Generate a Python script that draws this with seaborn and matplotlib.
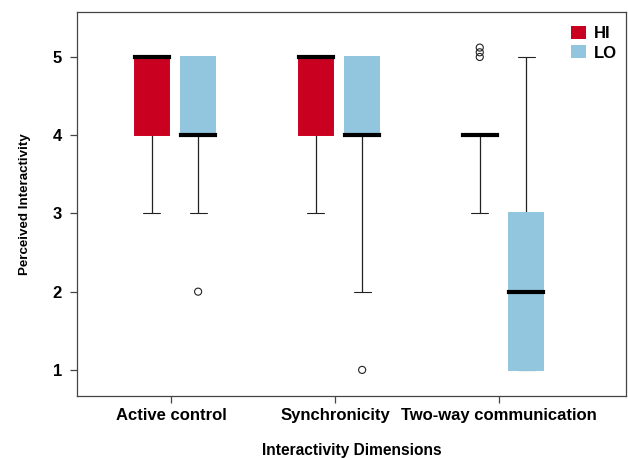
import numpy as np
import pandas as pd
import matplotlib
matplotlib.use("Agg")
import matplotlib.pyplot as plt
from matplotlib.patches import Patch
import seaborn as sns

# ---------------- data ----------------
dimensions = ["Active control", "Synchronicity", "Two-way communication"]
groups = ["HI", "LO"]

# observations inside the whiskers (give quartiles, median, whisker ends)
hi_active = [3, 4, 5, 5, 5]
lo_active = [3, 4, 4, 5, 5]
hi_sync = [3, 4, 5, 5, 5]
lo_sync = [2, 4, 4, 5, 5]
hi_twoway = [3, 4, 4, 4, 4]
lo_twoway = [1, 1, 2, 3, 5]

# outlying observations
out_dimension = ["Active control", "Synchronicity", "Two-way communication",
                 "Two-way communication", "Two-way communication"]
out_group = ["LO", "LO", "HI", "HI", "HI"]
out_value = [2, 1, 5.0, 5.06, 5.12]

y_ticks = [1, 2, 3, 4, 5]
colors = {"HI": "#CA0020", "LO": "#92C5DE"}

# ---------------- build table ----------------
samples = {
    ("Active control", "HI"): hi_active,
    ("Active control", "LO"): lo_active,
    ("Synchronicity", "HI"): hi_sync,
    ("Synchronicity", "LO"): lo_sync,
    ("Two-way communication", "HI"): hi_twoway,
    ("Two-way communication", "LO"): lo_twoway,
}
rows = []
for (dim, grp), vals in samples.items():
    for v in vals:
        rows.append({"dimension": dim, "group": grp, "value": v})
df = pd.DataFrame(rows)

# ---------------- style ----------------
sns.set_theme(style="ticks")
plt.rcParams["font.family"] = ["Liberation Sans", "DejaVu Sans"]
plt.rcParams["font.weight"] = "bold"
plt.rcParams["text.color"] = "black"
plt.rcParams["axes.labelcolor"] = "black"
plt.rcParams["xtick.labelcolor"] = "black"
plt.rcParams["ytick.labelcolor"] = "black"

fig = plt.figure(figsize=(6.28, 4.58), dpi=100)
ax = fig.add_axes([0.1231, 0.1343, 0.8737, 0.8395])

box_width = 0.566
sns.boxplot(
    data=df, x="dimension", y="value", hue="group",
    order=dimensions, hue_order=groups, palette=colors,
    saturation=1, width=box_width, gap=0.265, whis=(0, 100),
    linecolor="black", linewidth=0.9,
    boxprops=dict(linewidth=0, zorder=2),
    medianprops=dict(linewidth=3.0, color="black", solid_capstyle="projecting", zorder=3),
    whiskerprops=dict(color="#222222", linewidth=0.9, zorder=1),
    capprops=dict(color="#222222", linewidth=0.8, zorder=1),
    ax=ax, legend=False,
)
# borderless boxes: edge painted in the fill colour
for p in ax.patches:
    p.set_edgecolor(p.get_facecolor())
    p.set_linewidth(1.4)

# outliers, dodged like the boxes
dodge = box_width / 4
out_x = [dimensions.index(d) + (-dodge if g == "HI" else dodge)
         for d, g in zip(out_dimension, out_group)]
ax.scatter(out_x, out_value, s=26, facecolors="none", edgecolors="#222222",
           linewidths=0.8, zorder=5)

# axes
ax.set_xlim(-0.595, 2.75)
ax.set_ylim(0.66, 5.575)
ax.set_yticks(y_ticks)
ax.set_yticklabels([str(t) for t in y_ticks], fontsize=12, fontweight="bold")
ax.set_xticks(np.arange(len(dimensions)) - 0.022)
ax.set_xticklabels(dimensions, fontsize=12, fontweight="bold")
ax.tick_params(axis="both", length=5, width=0.9, color="#444444")
ax.tick_params(axis="x", pad=3)
ax.tick_params(axis="y", pad=6)
for sp in ax.spines.values():
    sp.set_visible(True)
    sp.set_color("#444444")
    sp.set_linewidth(0.9)

ax.set_xlabel("Interactivity Dimensions", fontsize=11.2, fontweight="bold", labelpad=15)
ax.set_ylabel("Perceived Interactivity", fontsize=9.6, fontweight="bold", labelpad=16)

handles = [Patch(facecolor=colors[g], edgecolor="none", label=g) for g in groups]
ax.legend(handles=handles, loc="upper right", frameon=False,
          prop=dict(size=12, weight="bold"), handlelength=0.85, handleheight=0.85,
          handletextpad=0.5, labelspacing=0.25, borderaxespad=0.3,
          bbox_to_anchor=(1.005, 0.995))

fig.savefig("out.png", dpi=100)
